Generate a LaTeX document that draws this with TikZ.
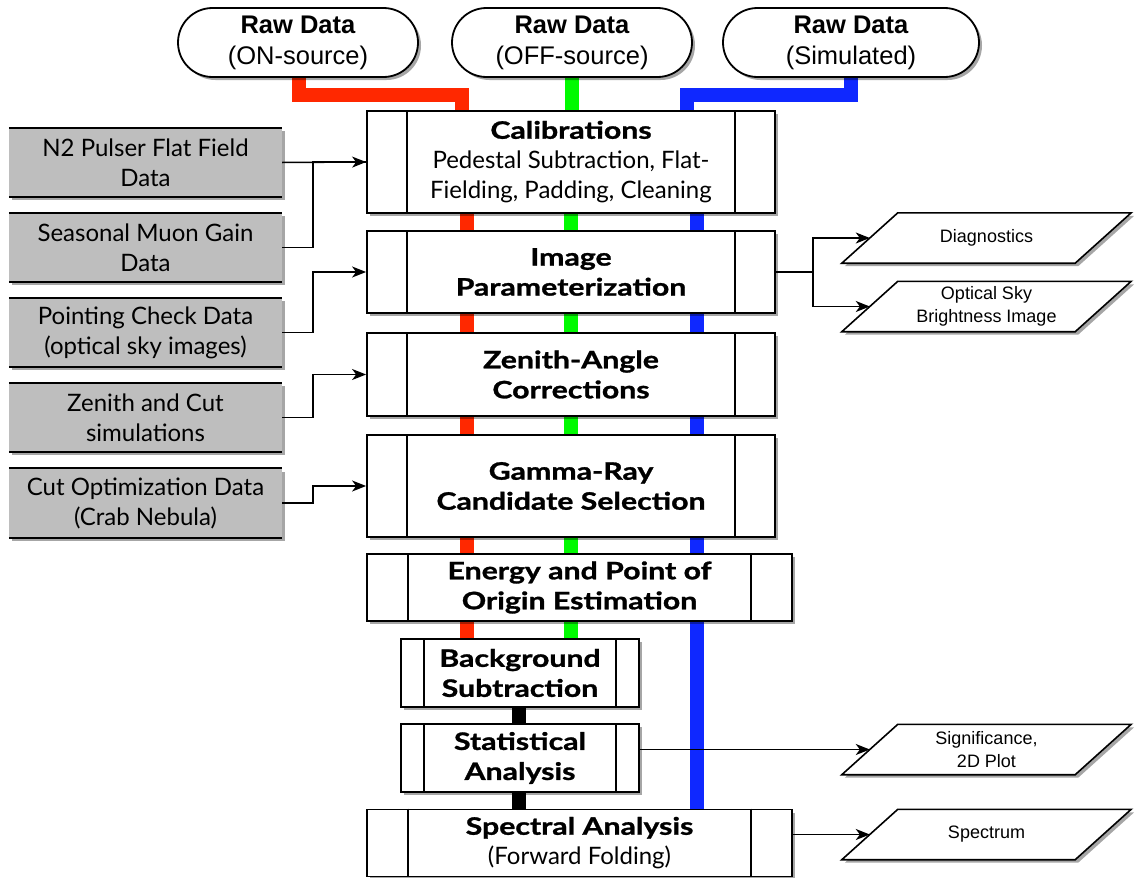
\documentclass[tikz,border=0pt]{standalone}
\usepackage{fontspec}
\newfontfamily\gill{Lato}
\newfontfamily\gillb[FakeStretch=1.26,FakeBold=1.2]{Lato}
\newfontfamily\helv{Liberation Sans}
\newcommand\ttl[1]{{\gillb\bfseries #1}}
\usetikzlibrary{shapes.misc,shadows,arrows.meta,backgrounds}
\definecolor{rawred}{RGB}{255,40,0}
\definecolor{rawgreen}{RGB}{0,250,0}
\definecolor{rawblue}{RGB}{15,40,255}
\definecolor{boxgray}{RGB}{190,190,190}
\begin{document}
\begin{tikzpicture}[x=1pt,y=-1pt,
 shad/.style={drop shadow={shadow xshift=3pt,shadow yshift=-3pt,opacity=0.35,fill=black}},
 proc/.style={draw,line width=1.8pt,fill=white,shad,inner sep=0pt,align=center,font=\gill\fontsize{24}{30}\selectfont},
 grayb/.style={fill=boxgray,shad,inner sep=0pt,align=center,minimum width=273pt,minimum height=69pt,font=\gill\fontsize{24}{30}\selectfont},
 pill/.style={rounded rectangle,draw,line width=1.8pt,fill=white,shad,inner sep=0pt,align=center,minimum height=69pt,font=\helv\fontsize{25.5}{31}\selectfont},
 outn/.style={inner sep=0pt,align=center,minimum width=233pt,minimum height=50pt,font=\helv\fontsize{18}{23}\selectfont},
 para/.style={draw,line width=1.6pt,fill=white,shad},
 band/.style={line width=14pt,line cap=butt,line join=miter},
 conn/.style={line width=1.5pt},
 arr/.style={conn,-{Stealth[length=14pt,width=11pt,inset=4pt]}},
 sep/.style={line width=1.8pt}
]
\useasboundingbox (0,0) rectangle (1136,878);

% raw data pills
\node[pill,minimum width=240pt] (on) at (298,42.5) {\textbf{Raw Data}\\(ON-source)};
\node[pill,minimum width=240pt] (off) at (572,42.5) {\textbf{Raw Data}\\(OFF-source)};
\node[pill,minimum width=256pt] (sim) at (851,42.5) {\textbf{Raw Data}\\(Simulated)};

% process boxes
\node[proc,minimum width=408pt,minimum height=102pt] (calib) at (571,162) {\ttl{Calibrations}\\Pedestal Subtraction, Flat-\\Fielding, Padding, Cleaning};
\node[proc,minimum width=408pt,minimum height=82pt] (imgp) at (571,272) {\ttl{Image}\\\ttl{Parameterization}};
\node[proc,minimum width=408pt,minimum height=83pt] (zen) at (571,374.5) {\ttl{Zenith-Angle}\\\ttl{Corrections}};
\node[proc,minimum width=408pt,minimum height=102pt] (gam) at (571,486) {\ttl{Gamma-Ray}\\\ttl{Candidate Selection}};
\node[proc,minimum width=425pt,minimum height=67pt] (ene) at (579.5,587.5) {\ttl{Energy and Point of}\\\ttl{Origin Estimation}};
\node[proc,minimum width=238pt,minimum height=68pt] (bg) at (520,673) {\ttl{Background}\\\ttl{Subtraction}};
\node[proc,minimum width=238pt,minimum height=68pt] (stat) at (520,758) {\ttl{Statistical}\\\ttl{Analysis}};
\node[proc,minimum width=425pt,minimum height=67pt] (spec) at (579.5,843) {\ttl{Spectral Analysis}\\(Forward Folding)};

\foreach \n/\o in {calib/41,imgp/41,zen/41,gam/41,ene/42,bg/24,stat/24,spec/42}
  \draw[sep] ([xshift=\o pt]\n.north west) -- ([xshift=\o pt]\n.south west)
             ([xshift=-\o pt]\n.north east) -- ([xshift=-\o pt]\n.south east);

% gray input boxes
\node[grayb] (g1) at (145.5,162.5) {N2 Pulser Flat Field\\Data};
\node[grayb] (g2) at (145.5,247.5) {Seasonal Muon Gain\\Data};
\node[grayb] (g3) at (145.5,332.5) {Pointing Check Data\\(optical sky images)};
\node[grayb] (g4) at (145.5,417.5) {Zenith and Cut\\simulations};
\node[grayb] (g5) at (145.5,503) {Cut Optimization Data\\(Crab Nebula)};
\foreach \n in {g1,g2,g3,g4,g5}
  \draw[sep] (\n.north west) -- (\n.north east) (\n.south west) -- (\n.south east);

% outputs
\node[outn] (diag) at (986.5,238) {Diagnostics};
\node[outn] (osb) at (986.5,306.5) {Optical Sky\\Brightness Image};
\node[outn] (sig) at (986.5,749.5) {Significance,\\2D Plot};
\node[outn] (spm) at (986.5,834.5) {Spectrum};

\begin{pgfonlayer}{background}
  \foreach \n in {diag,osb,sig,spm}
    \draw[para] ([xshift=-28pt]\n.south west) -- ([xshift=28pt]\n.north west)
      -- ([xshift=28pt]\n.north east) -- ([xshift=-28pt]\n.south east) -- cycle;
  % data bands
  \draw[band,rawred] ([xshift=1pt]on.south) -- ++(0,17) -| ([xshift=-109pt]calib.north);
  \draw[band,rawgreen] (off.south) -- (off.south |- calib.north);
  \draw[band,rawblue] (sim.south) -- ++(0,17) -| ([xshift=116pt]calib.north);
  \draw[band,rawred] ([xshift=-104pt]calib.south) -- ([xshift=-53pt]bg.north);
  \draw[band,rawgreen] (calib.south) -- ([xshift=51pt]bg.north);
  \draw[band,rawblue] ([xshift=126pt]calib.south) -- ([xshift=117.5pt]spec.north);
  \draw[band,black] ([xshift=-1pt]bg.south) -- ([xshift=-1pt]stat.north);
  \draw[band,black] ([xshift=-1pt]stat.south) -- ([xshift=-60.5pt]spec.north);
\end{pgfonlayer}

% input connectors
\draw[arr] (g1.east) -- (calib.west);
\draw[conn] (g2.east) -- ++(31,0) |- (calib.west);
\draw[arr] (g3.east) -- ++(31,0) |- (imgp.west);
\draw[arr] (g4.east) -- ++(31,0) |- (zen.west);
\draw[arr] (g5.east) -- ++(31,0) |- (gam.west);

% output connectors
\draw[arr] (imgp.east) -- ++(37,0) |- (diag.west);
\draw[arr] (imgp.east) -- ++(37,0) |- (osb.west);
\draw[arr] (stat.east |- sig.west) -- (sig.west);
\draw[arr] (spec.east |- spm.west) -- (spm.west);
\end{tikzpicture}
\end{document}
